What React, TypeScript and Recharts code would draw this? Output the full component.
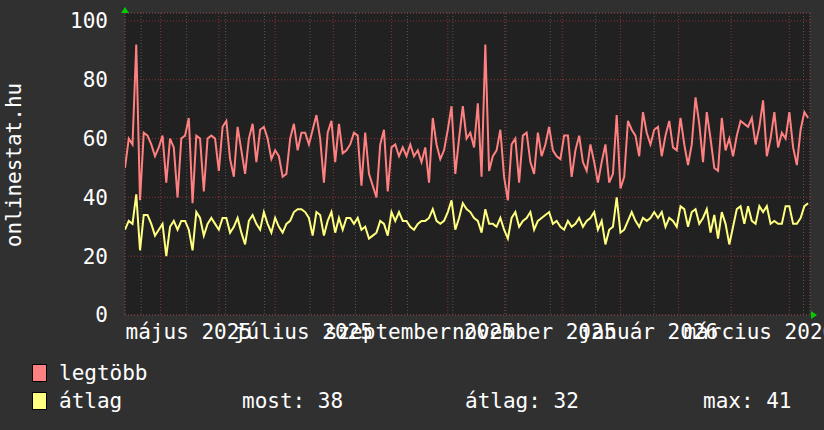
import { LineChart, Line, XAxis, YAxis, CartesianGrid, ReferenceDot } from 'recharts';

// one reading every 2 days, starting 2025-04-12
const dayStep = 2;
const daySpan = 365;

const maxVals = [
  50, 60, 58, 92, 39, 62, 61, 58, 54, 57, 61, 45, 60, 57, 40, 60, 61, 67, 38, 61,
  60, 42, 60, 61, 60, 49, 64, 66, 53, 47, 64, 56, 48, 60, 65, 52, 63, 64, 60, 53,
  56, 54, 47, 48, 60, 65, 56, 62, 62, 58, 63, 68, 60, 45, 62, 66, 52, 65, 55, 56,
  58, 62, 61,
  44, 62, 48, 44, 40, 58, 63, 42, 57, 58, 54, 57, 54, 58, 54, 56, 52, 57, 45, 67,
  58, 53, 56, 63, 71, 48, 60, 71, 60, 62, 57, 72, 47, 92, 49, 54, 56, 63, 47, 39,
  58, 60, 45, 61, 62, 52, 48, 62, 54, 58, 64, 56, 54, 53, 61, 61, 47, 56, 61, 52,
  49, 58, 52, 45,
  52, 58, 45, 48, 68, 43, 47, 66, 63, 61, 54, 69, 62, 58, 63, 64, 54, 61, 66, 57,
  56, 67, 58, 51, 58, 74, 65, 52, 69, 60, 50, 49, 67, 56, 60, 54, 61, 66, 65, 64,
  67, 58, 64, 73, 54, 60, 69, 57, 62, 60, 69, 57, 51, 63, 69, 67,
];

const avgVals = [
  29, 32, 31, 41, 22, 34, 34, 31, 27, 29, 31, 20, 30, 32, 29, 32, 32, 29, 22, 35,
  33, 27, 31, 33, 31, 29, 33, 33, 28, 30, 33, 28, 24, 32, 34, 31, 29, 35, 31, 28,
  33, 30, 28, 31, 32, 35, 36, 36, 35, 33, 27, 35, 34, 27, 32, 35, 28, 33, 29, 33,
  33, 31, 33,
  29, 30, 26, 27, 28, 32, 31, 27, 35, 32, 35, 32, 32, 30, 29, 31, 32, 32, 33, 36,
  32, 31, 32, 35, 39, 29, 33, 38, 36, 35, 33, 32, 28, 36, 31, 31, 30, 33, 29, 26,
  33, 35, 30, 32, 33, 35, 29, 32, 33, 34, 35, 31, 32, 30, 29, 32, 30, 31, 33, 30,
  32, 33, 35, 29,
  32, 24, 29, 30, 40, 28, 29, 32, 35, 32, 30, 33, 32, 33, 35, 33, 35, 30, 33, 32,
  30, 37, 36, 30, 35, 36, 31, 33, 36, 28, 34, 26, 35, 31, 24, 30, 36, 37, 31, 37,
  32, 31, 37, 35, 37, 31, 32, 31, 31, 37, 37, 31, 31, 33, 37, 38,
];

// month starts (days since start) and the 2-monthly labels
const monthStarts = [19, 50, 80, 111, 142, 172, 203, 233, 264, 295, 323, 354];
const labelDays = [34, 95, 157, 218, 279, 338];
const labelNames = ['május 2025', 'július 2025', 'szeptember 2025', 'november 2025', 'január 2026', 'március 2026'];

const yTicks = [0, 20, 40, 60, 80, 100];
const yTop = 102.7;

const legendNames = ['legtöbb', 'átlag'];
const legendColors = ['#ff8080', '#ffff80'];
const statLabels = ['most: 38', 'átlag: 32', 'max: 41'];

const FONT = 'DejaVu Sans Mono, monospace';

const data = maxVals.map((v, i) => ({ day: i * dayStep, max: v, avg: avgVals[i] }));
const minorDays = Array.from({ length: 106 }, (_, i) => 1.7 + i * 3.46).filter((d) => d < daySpan);
const minorY = Array.from({ length: 52 }, (_, i) => i * 2);

export default function App() {
  return (
    <div style={{ position: 'absolute', left: 0, top: 0, width: 824, height: 430, background: '#303030', overflow: 'hidden' }}>
      <LineChart
        width={824}
        height={430}
        data={data}
        margin={{ top: 13, right: 14, bottom: 0, left: 0 }}
      >
        <XAxis
          dataKey="day"
          type="number"
          domain={[0, daySpan]}
          allowDataOverflow
          ticks={labelDays}
          interval={0}
          tickFormatter={(v) => labelNames[labelDays.indexOf(v)] ?? ''}
          axisLine={false}
          tickLine={false}
          tickSize={0}
          tickMargin={9}
          height={115}
          tick={{ fill: '#ffffff', fontSize: 21, fontFamily: FONT }}
        />
        <XAxis xAxisId="minor" dataKey="day" type="number" domain={[0, daySpan]} ticks={minorDays} hide />
        <XAxis xAxisId="month" dataKey="day" type="number" domain={[0, daySpan]} ticks={monthStarts} hide />
        <YAxis
          domain={[0, yTop]}
          allowDataOverflow
          ticks={yTicks}
          interval={0}
          width={125}
          axisLine={false}
          tickLine={false}
          tickSize={0}
          tickMargin={17}
          tick={{ fill: '#ffffff', fontSize: 21, fontFamily: FONT }}
        />
        <YAxis yAxisId="minor" domain={[0, yTop]} ticks={minorY} hide />

        <CartesianGrid xAxisId="minor" yAxisId="minor" fill="#212121" stroke="#555555" strokeDasharray="1 2" />
        <CartesianGrid xAxisId="month" yAxisId={0} stroke="#8a3434" strokeDasharray="1 2" />

        <Line type="linear" dataKey="max" stroke="#ff8080" strokeWidth={2} dot={false} isAnimationActive={false} />
        <Line type="linear" dataKey="avg" stroke="#ffff80" strokeWidth={2} dot={false} isAnimationActive={false} />

        <ReferenceDot
          x={0}
          y={yTop}
          r={0}
          ifOverflow="visible"
          shape={(p: any) => <polygon points={`${p.cx - 4},${p.cy} ${p.cx + 4},${p.cy} ${p.cx},${p.cy - 6}`} fill="#00cc00" />}
        />
        <ReferenceDot
          x={daySpan}
          y={0}
          r={0}
          ifOverflow="visible"
          shape={(p: any) => <polygon points={`${p.cx + 1},${p.cy - 4} ${p.cx + 1},${p.cy + 4} ${p.cx + 7},${p.cy}`} fill="#00cc00" />}
        />
      </LineChart>

      <svg width={824} height={430} style={{ position: 'absolute', left: 0, top: 0, pointerEvents: 'none' }}>
        <text
          x={0}
          y={0}
          transform="translate(21,165) rotate(-90)"
          textAnchor="middle"
          fill="#ffffff"
          fontSize={21}
          fontFamily={FONT}
        >
          onlinestat.hu
        </text>
        {legendNames.map((name, i) => (
          <g key={name}>
            <rect x={32.5} y={364.5 + i * 28} width={14} height={17} fill={legendColors[i]} stroke="#000000" strokeWidth={1} />
            <text x={59} y={380 + i * 28} fill="#ffffff" fontSize={21} fontFamily={FONT}>
              {name}
            </text>
          </g>
        ))}
        {statLabels.map((s, i) => (
          <text key={s} x={[242, 465, 703][i]} y={408} fill="#ffffff" fontSize={21} fontFamily={FONT}>
            {s}
          </text>
        ))}
      </svg>
    </div>
  );
}
